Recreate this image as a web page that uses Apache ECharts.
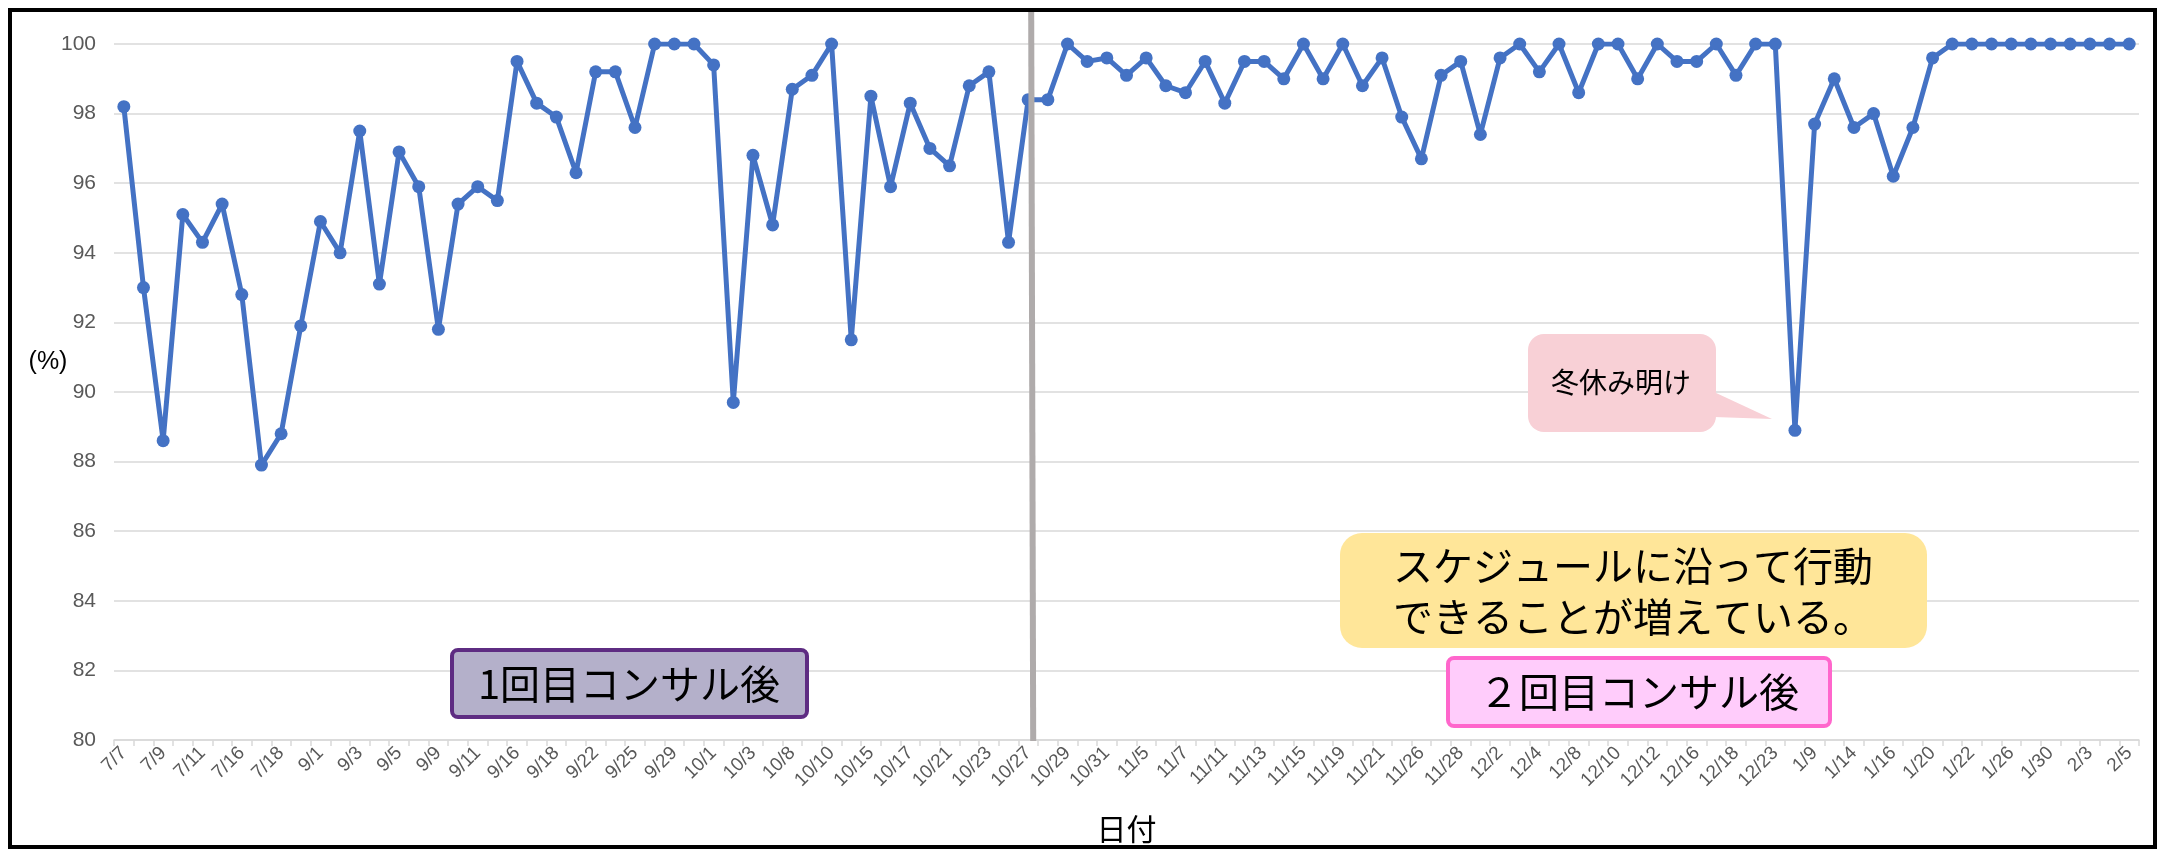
<!DOCTYPE html>
<html>
<head>
<meta charset="utf-8">
<script src="https://cdn.jsdelivr.net/npm/echarts@6/dist/echarts.min.js"></script>
<style>
    html, body { margin: 0; padding: 0; background: #fff; }
    #main { width: 2161px; height: 850px; }
</style>
</head>
<body>
<div id="main"></div>
<script>
// 日付 (表示は1つおき)
var dates = [
    '7/7', '7/8', '7/9', '7/10', '7/11', '7/12', '7/16', '7/17', '7/18', '7/19',
    '9/1', '9/2', '9/3', '9/4', '9/5', '9/6', '9/9', '9/10', '9/11', '9/12',
    '9/16', '9/17', '9/18', '9/19', '9/22', '9/24', '9/25', '9/26', '9/29', '9/30',
    '10/1', '10/2', '10/3', '10/7', '10/8', '10/9', '10/10', '10/14', '10/15', '10/16',
    '10/17', '10/20', '10/21', '10/22', '10/23', '10/24', '10/27', '10/28', '10/29', '10/30',
    '10/31', '11/4', '11/5', '11/6', '11/7', '11/10', '11/11', '11/12', '11/13', '11/14',
    '11/15', '11/18', '11/19', '11/20', '11/21', '11/25', '11/26', '11/27', '11/28', '12/1',
    '12/2', '12/3', '12/4', '12/5', '12/8', '12/9', '12/10', '12/11', '12/12', '12/15',
    '12/16', '12/17', '12/18', '12/19', '12/23', '1/8', '1/9', '1/13', '1/14', '1/15',
    '1/16', '1/19', '1/20', '1/21', '1/22', '1/23', '1/26', '1/28', '1/30', '2/2',
    '2/3', '2/4', '2/5'
];

// 達成率 (%)
var rates = [
    98.2, 93.0, 88.6, 95.1, 94.3, 95.4, 92.8, 87.9, 88.8, 91.9,
    94.9, 94.0, 97.5, 93.1, 96.9, 95.9, 91.8, 95.4, 95.9, 95.5,
    99.5, 98.3, 97.9, 96.3, 99.2, 99.2, 97.6, 100, 100, 100,
    99.4, 89.7, 96.8, 94.8, 98.7, 99.1, 100, 91.5, 98.5, 95.9,
    98.3, 97.0, 96.5, 98.8, 99.2, 94.3, 98.4, 98.4, 100, 99.5,
    99.6, 99.1, 99.6, 98.8, 98.6, 99.5, 98.3, 99.5, 99.5, 99.0,
    100, 99.0, 100, 98.8, 99.6, 97.9, 96.7, 99.1, 99.5, 97.4,
    99.6, 100, 99.2, 100, 98.6, 100, 100, 99.0, 100, 99.5,
    99.5, 100, 99.1, 100, 100, 88.9, 97.7, 99.0, 97.6, 98.0,
    96.2, 97.6, 99.6, 100, 100, 100, 100, 100, 100, 100,
    100, 100, 100
];

var yMin = 80, yMax = 100, yStep = 2;
var dividerDate = '10/27';

var jpFont = '"Noto Sans CJK JP", sans-serif';

var chart = echarts.init(document.getElementById('main'), null, {renderer: 'canvas'});

var option = {
    animation: false,
    backgroundColor: '#fff',
    grid: {
        left: 114,
        right: 22,
        top: 44,
        bottom: 110
    },
    xAxis: {
        type: 'category',
        data: dates,
        boundaryGap: true,
        name: '日付',
        nameLocation: 'middle',
        nameGap: 74,
        nameTextStyle: {
            color: '#000',
            fontSize: 30,
            fontFamily: jpFont
        },
        axisLine: {
            lineStyle: {color: '#d9d9d9', width: 1.5}
        },
        axisTick: {
            show: true,
            interval: 0,
            length: 6,
            lineStyle: {color: '#d9d9d9', width: 1.5}
        },
        axisLabel: {
            interval: 1,
            rotate: 45,
            margin: 10,
            color: '#595959',
            fontSize: 19,
            fontFamily: 'Arial, "Liberation Sans", sans-serif'
        },
        splitLine: {show: false}
    },
    yAxis: {
        type: 'value',
        min: yMin,
        max: yMax,
        interval: yStep,
        axisLine: {show: false},
        axisTick: {show: false},
        axisLabel: {
            margin: 18,
            color: '#595959',
            fontSize: 21,
            fontFamily: 'Arial, "Liberation Sans", sans-serif'
        },
        splitLine: {
            lineStyle: {color: '#d9d9d9', width: 1.5}
        }
    },
    series: [
        {
            name: '達成率',
            type: 'line',
            data: rates,
            symbol: 'circle',
            symbolSize: 13,
            lineStyle: {color: '#4472C4', width: 5},
            itemStyle: {color: '#4472C4'},
            z: 3
        }
    ]
};
chart.setOption(option);

// 注釈類
function buildGraphics() {
    var divX = chart.convertToPixel({xAxisIndex: 0}, dividerDate) + 3;
    return [
        // 外枠
        {
            type: 'rect',
            shape: {x: 10, y: 10, width: 2145, height: 837},
            style: {fill: null, stroke: '#000', lineWidth: 4},
            z: 100
        },
        // (%)
        {
            type: 'text',
            x: 48, y: 362,
            style: {
                text: '(%)', fill: '#000', fontSize: 25,
                fontFamily: 'Arial, sans-serif', align: 'center', verticalAlign: 'middle'
            },
            z: 10
        },
        // 区切り線
        {
            type: 'line',
            shape: {x1: divX, y1: 12, x2: divX + 2, y2: 741},
            style: {stroke: '#AFABAB', lineWidth: 6},
            z: 20
        },
        // 1回目
        {
            type: 'rect',
            shape: {x: 452, y: 650, width: 355, height: 67, r: 6},
            style: {fill: '#B4B0CA', stroke: '#5E2C82', lineWidth: 4},
            z: 10
        },
        {
            type: 'text',
            x: 629, y: 684,
            style: {
                text: '1回目コンサル後', fill: '#000', fontSize: 40,
                fontFamily: jpFont, align: 'center', verticalAlign: 'middle'
            },
            z: 11
        },
        // 黄色いコメント
        {
            type: 'rect',
            shape: {x: 1340, y: 533, width: 587, height: 115, r: 22},
            style: {fill: '#FFE699'},
            z: 10
        },
        {
            type: 'text',
            x: 1633, y: 591,
            style: {
                text: 'スケジュールに沿って行動\nできることが増えている。',
                fill: '#000', fontSize: 40, lineHeight: 51,
                fontFamily: jpFont, align: 'center', verticalAlign: 'middle'
            },
            z: 11
        },
        // 2回目
        {
            type: 'rect',
            shape: {x: 1448, y: 658, width: 382, height: 68, r: 6},
            style: {fill: '#FFCCFB', stroke: '#FF66CC', lineWidth: 4},
            z: 10
        },
        {
            type: 'text',
            x: 1639, y: 692,
            style: {
                text: '２回目コンサル後', fill: '#000', fontSize: 40,
                fontFamily: jpFont, align: 'center', verticalAlign: 'middle'
            },
            z: 11
        },
        // 冬休み明け 吹き出し
        {
            type: 'rect',
            shape: {x: 1528, y: 334, width: 188, height: 98, r: 16},
            style: {fill: '#F8D0D6'},
            z: 10
        },
        {
            type: 'polygon',
            shape: {points: [[1714, 392], [1772, 419], [1714, 417]]},
            style: {fill: '#F8D0D6'},
            z: 10
        },
        {
            type: 'text',
            x: 1621, y: 382,
            style: {
                text: '冬休み明け', fill: '#000', fontSize: 28,
                fontFamily: jpFont, align: 'center', verticalAlign: 'middle'
            },
            z: 11
        }
    ];
}
chart.setOption({graphic: buildGraphics()});
</script>
</body>
</html>
